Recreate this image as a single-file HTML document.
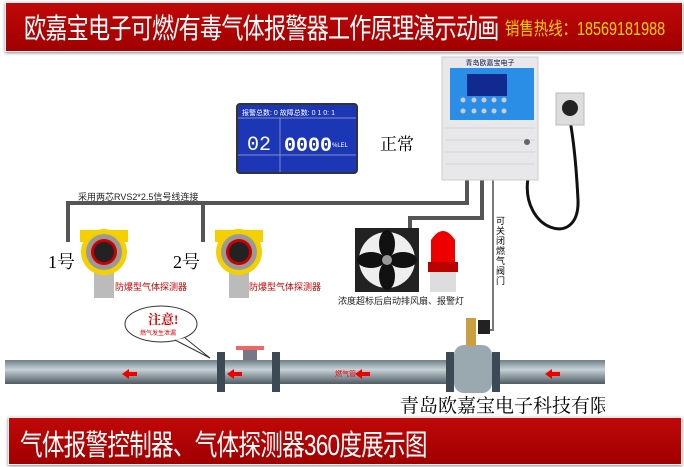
<!DOCTYPE html>
<html><head><meta charset="utf-8"><style>
body{margin:0;width:684px;height:467px;overflow:hidden;background:#fff;position:relative;font-family:"Liberation Sans","Noto Sans CJK SC",sans-serif}
.a{position:absolute;white-space:nowrap}
.ban{position:absolute;background:linear-gradient(#c00808,#a00000);border:1px solid #eee;box-shadow:0 1px 3px #888}
</style></head><body>
<div class="ban" style="left:5px;top:2px;width:676px;height:48px"></div>
<div class="a" style="left:24px;top:7px;font-size:28px;color:#fff;letter-spacing:-1px;transform:scaleX(0.79);transform-origin:left">欧嘉宝电子可燃/有毒气体报警器工作原理演示动画</div>
<div class="a" style="left:505px;top:15px;font-size:18px;color:#ffd200;transform:scaleX(0.8);transform-origin:left">销售热线：18569181988</div>

<svg class="a" style="left:0;top:0" width="684" height="467">
<g fill="none" stroke="#555" stroke-width="4">
<path d="M68 242V203H467V178"/><path d="M203 242V203"/>
<path d="M482 178V218H410V228"/>
</g>
<path d="M493 178V330H484" fill="none" stroke="#777" stroke-width="2"/>
<path d="M528 178C520 230 580 250 578 200C576 160 572 130 569 115" fill="none" stroke="#111" stroke-width="3"/>
<rect x="556" y="93" width="28" height="32" fill="#ddd" stroke="#bbb"/>
<circle cx="570" cy="108" r="8" fill="#222"/>
<rect x="442" y="57" width="96" height="123" fill="#e8e8ea" stroke="#ccc"/>
<rect x="450" y="68" width="84" height="52" fill="#2a8ee6"/>
<text x="490" y="65" font-size="7" fill="#114" text-anchor="middle" font-family="Noto Sans CJK SC">青岛欧嘉宝电子</text>
<rect x="467" y="74" width="40" height="22" fill="#102a90"/>
<g fill="#ccc"><circle cx="463" cy="100" r="2.5"/><circle cx="474" cy="100" r="2.5"/><circle cx="484" cy="100" r="2.5"/><circle cx="494" cy="100" r="2.5"/><circle cx="504" cy="100" r="2.5"/><circle cx="463" cy="111" r="2.5"/><circle cx="474" cy="111" r="2.5"/><circle cx="484" cy="111" r="2.5"/><circle cx="494" cy="111" r="2.5"/><circle cx="504" cy="111" r="2.5"/></g>
<g stroke="#d4d4d6"><line x1="445" y1="128" x2="535" y2="128"/><line x1="445" y1="140" x2="535" y2="140"/><line x1="445" y1="152" x2="535" y2="152"/><line x1="445" y1="164" x2="535" y2="164"/></g>
<circle cx="527" cy="142" r="3" fill="#666"/>
<rect x="237" y="104" width="120" height="69" rx="3" fill="#1c37b5" stroke="#333" stroke-width="2"/>
<g stroke="#aac" stroke-width="0.7"><line x1="238" y1="118" x2="356" y2="118"/><line x1="280" y1="118" x2="280" y2="172"/><line x1="238" y1="155" x2="356" y2="155"/></g>
<text x="247" y="150" font-size="20" fill="#fff" font-family="Liberation Mono">02</text>
<text x="284" y="151" font-size="20" fill="#fff" font-weight="bold" font-family="Liberation Mono">0000</text>
<text x="332" y="147" font-size="6" fill="#fff">%LEL</text>
<text x="242" y="115" font-size="7" fill="#fff">报警总数: 0   故障总数: 0   1 0: 1</text>
<g id="d"><rect x="94" y="272" width="20" height="26" fill="#bbb"/><rect x="80" y="230" width="48" height="12" fill="#f4d000"/><circle cx="104" cy="252" r="23" fill="#f4d000"/><circle cx="104" cy="252" r="18" fill="#999"/><circle cx="104" cy="252" r="13" fill="#c00"/><circle cx="104" cy="252" r="10" fill="#222"/></g>
<use href="#d" x="135"/>
<rect x="355" y="228" width="64" height="64" fill="#222"/><circle cx="387" cy="260" r="28" fill="#eee"/>
<g fill="#111"><ellipse cx="387" cy="244" rx="8" ry="14"/><ellipse cx="387" cy="276" rx="8" ry="14"/><ellipse cx="371" cy="260" rx="14" ry="8"/><ellipse cx="403" cy="260" rx="14" ry="8"/></g>
<circle cx="387" cy="260" r="5" fill="#999"/>
<path d="M431 262V240Q443 222 455 240V262Z" fill="#e00"/><rect x="428" y="262" width="30" height="10" fill="#b00"/><rect x="430" y="272" width="26" height="20" fill="#ddd"/>
<ellipse cx="161" cy="324" rx="36" ry="18" fill="#fff" stroke="#333"/>
<path d="M175 340L210 358L185 338" fill="#fff" stroke="#333"/>
<defs><linearGradient id="p" x1="0" y1="0" x2="0" y2="1"><stop offset="0" stop-color="#6f7f88"/><stop offset=".4" stop-color="#c7d1d6"/><stop offset="1" stop-color="#4f5c63"/></linearGradient></defs>
<rect x="5" y="360" width="600" height="24" fill="url(#p)"/>
<g fill="#3c4a56"><rect x="217" y="352" width="8" height="40"/><rect x="272" y="352" width="8" height="40"/><rect x="446" y="352" width="8" height="40"/><rect x="492" y="352" width="8" height="40"/></g>
<rect x="454" y="345" width="38" height="48" rx="10" fill="#9aa8b0"/>
<rect x="466" y="318" width="10" height="28" fill="#c8a040"/><rect x="478" y="320" width="12" height="14" fill="#222"/>
<rect x="236" y="346" width="28" height="4" fill="#e66"/><rect x="243" y="350" width="14" height="10" fill="#778"/>
<g fill="#e00"><path d="M122 374l7-5v3h8v4h-8v3z"/><path d="M227 374l7-5v3h8v4h-8v3z"/><path d="M355 374l7-5v3h8v4h-8v3z"/><path d="M545 374l7-5v3h8v4h-8v3z"/></g>
</svg>

<div class="a" style="left:78px;top:190px;font-size:9px;color:#222">采用两芯RVS2*2.5信号线连接</div>
<div class="a" style="left:380px;top:130px;font-size:17px;font-family:'Liberation Serif','Noto Serif CJK SC',serif">正常</div>
<div class="a" style="left:48px;top:248px;font-size:18px;font-family:'Liberation Serif','Noto Serif CJK SC',serif">1号</div>
<div class="a" style="left:173px;top:248px;font-size:18px;font-family:'Liberation Serif','Noto Serif CJK SC',serif">2号</div>
<div class="a" style="left:115px;top:280px;font-size:9px;color:#c00">防爆型气体探测器</div>
<div class="a" style="left:249px;top:280px;font-size:9px;color:#c00">防爆型气体探测器</div>
<div class="a" style="left:338px;top:294px;font-size:9px;color:#222">浓度超标后启动排风扇、报警灯</div>
<div class="a" style="left:496px;top:216px;font-size:9px;width:10px;white-space:normal;line-height:10px">可关闭燃气阀门</div>
<div class="a" style="left:148px;top:309px;font-size:13px;color:#d00;font-weight:bold;font-family:'Liberation Serif','Noto Serif CJK SC',serif">注意!</div>
<div class="a" style="left:140px;top:328px;font-size:6px;color:#c00">燃气发生泄漏</div>
<div class="a" style="left:335px;top:369px;font-size:7px;color:#e00">燃气管</div>
<div class="a" style="left:400px;top:391px;width:205px;overflow:hidden;font-size:19px;font-family:'Liberation Serif','Noto Serif CJK SC',serif">青岛欧嘉宝电子科技有限公司</div>

<div class="ban" style="left:8px;top:417px;width:672px;height:46px"></div>
<div class="a" style="left:20px;top:422px;font-size:29px;color:#fff;letter-spacing:-1px;transform:scaleX(0.78);transform-origin:left">气体报警控制器、气体探测器360度展示图</div>
</body></html>
